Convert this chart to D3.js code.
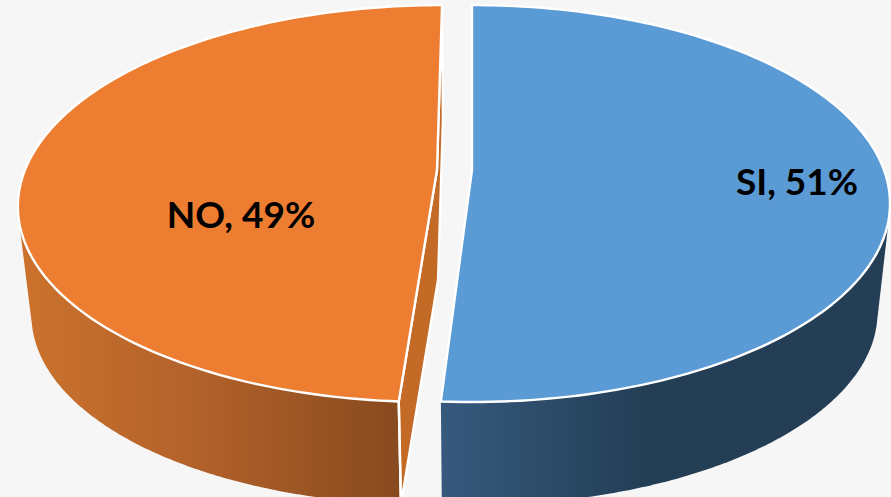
<!DOCTYPE html>
<html><head><meta charset="utf-8">
<script src="https://cdn.jsdelivr.net/npm/d3@7/dist/d3.min.js"></script>
<style>html,body{margin:0;padding:0;background:#f2f2f2;overflow:hidden}svg{display:block}</style>
</head><body><svg id="c" width="891" height="497"></svg>
<script>
const categories = ["SI", "NO"];
const values = [51, 49];
const topColors = ["#5B9BD5", "#ED7D31"];
const wallStops = [
  [["0%", "#36597D"], ["47%", "#233E55"], ["100%", "#233E55"]],
  [["0%", "#CC722D"], ["50%", "#B0602A"], ["100%", "#874A1E"]]
];
const explode = [0, 0.085];
const W = 891, H = 497;
const svg = d3.select("#c");
const defs = svg.append("defs");

const noise = defs.append("filter").attr("id", "paper").attr("x", 0).attr("y", 0).attr("width", "100%").attr("height", "100%");
noise.append("feTurbulence").attr("type", "fractalNoise").attr("baseFrequency", 0.22).attr("numOctaves", 3).attr("seed", 4);
noise.append("feColorMatrix").attr("type", "matrix").attr("values", "0 0 0 0 0.93  0 0 0 0 0.93  0 0 0 0 0.93  0.9 0 0 0 -0.28");
svg.append("rect").attr("width", W).attr("height", H).attr("fill", "#f6f6f6");
svg.append("rect").attr("width", W).attr("height", H).attr("filter", "url(#paper)");

// Tilted disc: unit circle through a perspective projection
const k = 0.169, rx = 412, ry = 192.8, cx = 472, cyTop = 170, cyBot = 280, sBot = 0.97;
function project(u, v, low) {
  const w = 1 - k * v, s = low ? sBot : 1, cy = low ? cyBot : cyTop;
  return [cx + s * rx * u / w, cy + s * ry * v / w];
}
const polar = (a, e, r = 1) => [r * Math.sin(a) - e, -r * Math.cos(a)];
const pt = (a, e, low, r = 1) => { const [u, v] = polar(a, e, r); return project(u, v, low); };
const arcPts = (a0, a1, e, low) => d3.range(0, 161).map(i => pt(a0 + (a1 - a0) * i / 160, e, low));

const arcs = d3.pie().sort(null)(values);
const line = d3.line().curve(d3.curveLinearClosed);
const white = s => s.attr("stroke", "#fff").attr("stroke-width", 2.4).attr("stroke-linejoin", "round");

wallStops.forEach((st, i) => {
  const g = defs.append("linearGradient").attr("id", "wall" + i).attr("gradientUnits", "userSpaceOnUse")
    .attr("x1", i ? 20 : 443).attr("x2", i ? 402 : 880).attr("y1", 0).attr("y2", 0);
  st.forEach(d => g.append("stop").attr("offset", d[0]).attr("stop-color", d[1]));
});

// Outer walls (front half only), as hull of the upper and lower rim
arcs.forEach((d, i) => {
  const e = explode[i];
  const a0 = Math.max(d.startAngle, Math.PI / 2), a1 = Math.min(d.endAngle, Math.PI * 1.5);
  const hull = d3.polygonHull(arcPts(a0, a1, e, false).concat(arcPts(a0, a1, e, true)));
  svg.append("path").attr("d", line(hull)).attr("fill", `url(#wall${i})`);
});

// Cut face of the exploded slice
const no = arcs[1], eNo = explode[1];
const cut = [pt(no.endAngle, eNo, false), pt(0, eNo, false, 0), pt(no.startAngle, eNo, false),
             pt(no.startAngle, eNo, true), pt(0, eNo, true, 0), pt(no.endAngle, eNo, true)];
svg.append("path").attr("d", line(cut)).attr("fill", "#C46A27").call(white);
svg.append("path").attr("d", d3.line()([pt(no.startAngle, eNo, false), pt(no.startAngle, eNo, true)]))
  .attr("fill", "none").call(white);

// Top faces
arcs.forEach((d, i) => {
  const e = explode[i];
  const pts = arcPts(d.startAngle, d.endAngle, e, false);
  pts.push(pt(0, e, false, 0));
  svg.append("path").attr("d", line(pts)).attr("fill", topColors[i]).call(white);
});

// Labels
const labelPos = [[797, 195], [241, 228]];
categories.forEach((c, i) => {
  svg.append("text").attr("x", labelPos[i][0]).attr("y", labelPos[i][1]).attr("text-anchor", "middle")
    .attr("font-family", "Lato, 'Open Sans', sans-serif").attr("font-weight", 700).attr("font-size", 37)
    .attr("fill", "#000").text(`${c}, ${values[i]}%`);
});
</script></body></html>
